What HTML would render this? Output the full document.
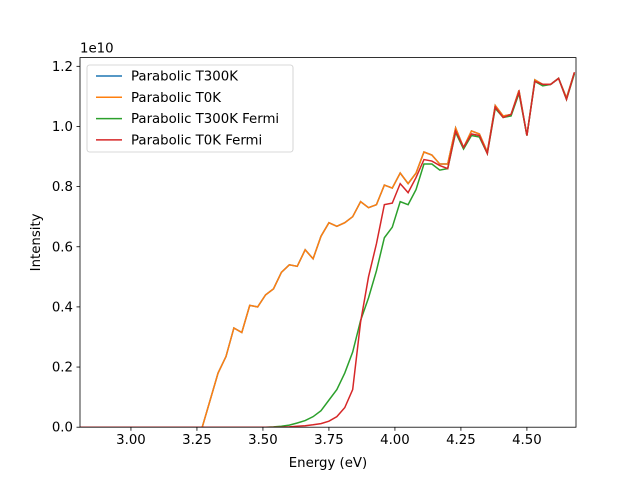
<!DOCTYPE html>
<html><head><meta charset="utf-8"><style>
body{margin:0;background:#fff}
svg text{font-family:"DejaVu Sans","Liberation Sans",sans-serif;font-size:13.3px;fill:#000}
</style></head><body>
<svg id="chart" width="640" height="480" viewBox="0 0 640 480" xmlns="http://www.w3.org/2000/svg">
<rect width="640" height="480" fill="#fff"/>
<g id="plot"></g>
</svg>
<script>
const energy0 = 3.27, energyStep = 0.03;
const parabolicT300K = [0,0.09,0.18,0.235,0.33,0.315,0.405,0.40,0.44,0.46,0.515,0.54,0.535,0.59,0.56,0.635,0.68,0.668,0.68,0.70,0.75,0.73,0.74,0.805,0.795,0.845,0.81,0.845,0.915,0.905,0.875,0.875,0.995,0.93,0.985,0.975,0.915,1.07,1.035,1.04,1.12,0.97,1.155,1.14,1.14,1.16,1.095,1.18];
const parabolicT0K = parabolicT300K.slice();
const fermiT300K = [0,0,0,0,0,0,0,0,0,0.001,0.003,0.007,0.014,0.022,0.035,0.055,0.09,0.125,0.18,0.25,0.355,0.43,0.52,0.63,0.665,0.75,0.74,0.79,0.875,0.875,0.855,0.86,0.98,0.925,0.97,0.965,0.91,1.06,1.03,1.035,1.11,0.97,1.15,1.135,1.14,1.16,1.09,1.175];
const fermiT0K = [0,0,0,0,0,0,0,0,0,0,0,0.001,0.003,0.005,0.008,0.012,0.02,0.035,0.065,0.125,0.35,0.5,0.61,0.74,0.745,0.81,0.78,0.83,0.89,0.885,0.87,0.86,0.985,0.93,0.975,0.97,0.91,1.065,1.03,1.04,1.115,0.97,1.15,1.14,1.14,1.16,1.09,1.18];
const xTicks = ["3.00","3.25","3.50","3.75","4.00","4.25","4.50"];
const yTicks = ["0.0","0.2","0.4","0.6","0.8","1.0","1.2"];
const seriesNames = ["Parabolic T300K","Parabolic T0K","Parabolic T300K Fermi","Parabolic T0K Fermi"];
const colors = ["#1f77b4","#ff7f0e","#2ca02c","#d62728"];

const L=80,R=576,T=57.6,B=427.2, xmin=2.807,xmax=4.686,ymin=0,ymax=1.229;
const X=v=>L+(v-xmin)/(xmax-xmin)*(R-L);
const Y=v=>B-(v-ymin)/(ymax-ymin)*(B-T);
const NS="http://www.w3.org/2000/svg";
const g=document.getElementById('plot');
function mk(t,a,p){const e=document.createElementNS(NS,t);for(const k in a)e.setAttribute(k,a[k]);(p||g).appendChild(e);return e;}

function pathFor(vals){
  const pts=[[xmin,0]];
  vals.forEach((v,i)=>pts.push([energy0+i*energyStep,v]));
  return pts.map((p,i)=>(i?'L':'M')+X(p[0]).toFixed(2)+','+Y(p[1]).toFixed(2)).join('');
}
const cl=mk('clipPath',{id:'clip'});mk('rect',{x:L,y:T,width:R-L,height:B-T},cl);
const allSeries=[parabolicT300K,parabolicT0K,fermiT300K,fermiT0K];
const seriesKeys=['series-parabolic-t300k','series-parabolic-t0k','series-parabolic-t300k-fermi','series-parabolic-t0k-fermi'];
allSeries.forEach((s,i)=>{
  const p=mk('path',{d:pathFor(s),fill:'none',stroke:colors[i],'stroke-width':1.5,'clip-path':'url(#clip)'});
  
  
});
const frame=mk('rect',{x:L,y:T,width:R-L,height:B-T,fill:'none',stroke:'#000','stroke-width':0.8});


xTicks.forEach(t=>{
  const x=X(parseFloat(t));
  mk('line',{x1:x,x2:x,y1:B,y2:B+3.5,stroke:'#000','stroke-width':0.8});
  const tx=mk('text',{x:x,y:B+17,'text-anchor':'middle'});tx.textContent=t;
  
  
});
yTicks.forEach(t=>{
  const y=Y(parseFloat(t));
  mk('line',{x1:L-3.5,x2:L,y1:y,y2:y,stroke:'#000','stroke-width':0.8});
  const tx=mk('text',{x:L-7,y:y+4.5,'text-anchor':'end'});tx.textContent=t;
  
  
});
const off=mk('text',{x:L,y:T-5});off.textContent='1e10';


const xt=mk('text',{x:(L+R)/2,y:467,'text-anchor':'middle'});xt.textContent='Energy (eV)';


const yt=mk('text',{x:0,y:0,'text-anchor':'middle',transform:`translate(40,${(T+B)/2}) rotate(-90)`});yt.textContent='Intensity';


const lg=mk('g',{});


mk('rect',{x:87,y:65,width:206,height:87,rx:2.5,fill:'#fff','fill-opacity':0.8,stroke:'#ccc','stroke-width':0.8},lg);
seriesNames.forEach((n,i)=>{
  const y=76+i*21.3;
  const e=mk('g',{},lg);
  
  
  mk('line',{x1:96,x2:122,y1:y,y2:y,stroke:colors[i],'stroke-width':1.5},e);
  const t=mk('text',{x:131,y:y+4.5},e);t.textContent=n;
});
</script>
</body></html>
